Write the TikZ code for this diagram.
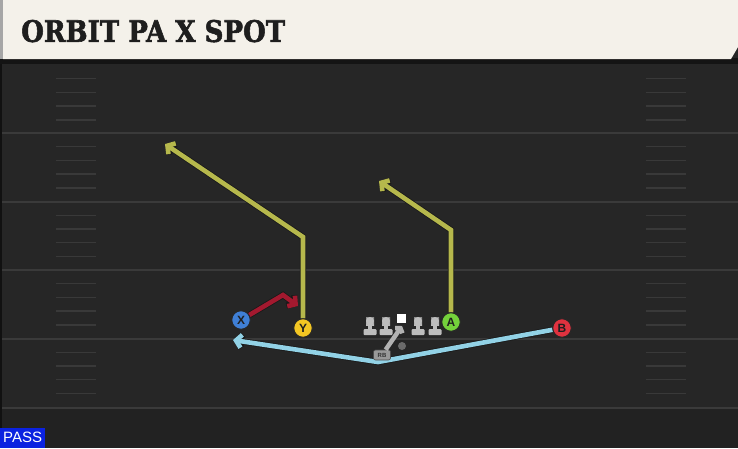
\documentclass[tikz,border=0pt]{standalone}
\usepackage{fontspec}
\setsansfont{Liberation Sans}
\newfontfamily\titlefont{DejaVu Serif}[BoldFeatures={FakeBold=2}]
\usetikzlibrary{arrows.meta}
\definecolor{fieldbg}{HTML}{262626}
\definecolor{fieldlow}{HTML}{222222}
\definecolor{fieldline}{HTML}{3A3A3A}
\definecolor{hashcol}{HTML}{393939}
\definecolor{cream}{HTML}{F4F1EA}
\definecolor{titlecol}{HTML}{1E1E1E}
\definecolor{routeyellow}{HTML}{B6B84C}
\definecolor{routered}{HTML}{A3192F}
\definecolor{routeblue}{HTML}{92D2E6}
\definecolor{pxblue}{HTML}{3F7FD6}
\definecolor{pyellow}{HTML}{F3C623}
\definecolor{pgreen}{HTML}{74D13B}
\definecolor{pred}{HTML}{E0323F}
\definecolor{linegray}{HTML}{BDBDBD}
\definecolor{passblue}{HTML}{0B22E0}
\pgfdeclarelayer{field}
\pgfdeclarelayer{routes}
\pgfsetlayers{field,routes,main}
\tikzset{
  player/.style={circle, minimum size=18.5pt, inner sep=0pt, draw=black!85, line width=0.9pt,
    font=\sffamily\bfseries\fontsize{12}{12}\selectfont, text=black!88},
  route/.style={draw=#1, line width=4.6pt, line join=miter,
    -{Straight Barb[length=5.5pt,width=13pt]},
    preaction={draw=black!90, line width=6.2pt, -{Straight Barb[length=5.5pt,width=13pt]}}},
  yardline/.style={draw=fieldline, line width=2pt},
  hashmark/.style={draw=hashcol, line width=1.4pt},
}
\begin{document}
\begin{tikzpicture}[x=1pt,y=-1pt]
\useasboundingbox (0,0) rectangle (738,448);
\begin{pgfonlayer}{field}
  \fill[fieldbg] (0,0) rectangle (738,448);
  \fill[fieldlow] (0,408) rectangle (738,448);
  \fill[black!55!fieldbg] (0,64) rectangle (2,448);
  \foreach \yy in {133,201.5,270,338.5,408} {
    \draw[yardline] (2,\yy) -- (738,\yy);
  }
  \foreach \base in {65,133,201.5,270,338.5} {
    \foreach \k in {1,2,3,4} {
      \draw[hashmark] (56,\base+13.7*\k) -- (96,\base+13.7*\k);
      \draw[hashmark] (646,\base+13.7*\k) -- (686,\base+13.7*\k);
    }
  }
  % header
  \fill[black!92] (0,58) rectangle (738,64);
  \fill[cream] (3,0) -- (738,0) -- (738,47) -- (731,59) -- (3,59) -- cycle;
  \fill[black!35] (0,0) rectangle (3,59);
\end{pgfonlayer}

\node[anchor=south west, inner sep=0pt, text=titlecol] (title) at (21,42.5)
  {\resizebox{264pt}{22pt}{\titlefont\bfseries ORBIT PA X SPOT}};

% offensive line
\foreach \lx in {370,386,418,435} {
  \fill[top color=black!45, bottom color=linegray] (\lx-4,317) rectangle (\lx+4,325);
  \fill[linegray] (\lx,321) circle (4pt);
  \fill[linegray] (\lx-2,324) rectangle (\lx+2,331);
  \fill[linegray, rounded corners=1pt] (\lx-6.5,329) rectangle (\lx+6.5,335);
}
\node[fill=white, minimum size=9pt, inner sep=0pt] (C) at (401,318) {};
\fill[black!58] (402,346) circle (4pt);

% players
\node[player, fill=pxblue] (X) at (241,320) {X};
\node[player, fill=pyellow] (Y) at (303,328) {Y};
\node[player, fill=pgreen] (A) at (451,322) {A};
\node[player, fill=pred] (B) at (562,328) {B};
\node[fill=black!40, draw=black!70, line width=0.6pt, rounded corners=2pt, minimum width=17pt,
      minimum height=10pt, inner sep=0pt, font=\sffamily\bfseries\fontsize{6}{6}\selectfont,
      text=black!80] (RB) at (382,355) {RB};

% route waypoints
\coordinate (ybreak) at (303,237);
\coordinate (yend) at (165,144);
\coordinate (abreak) at (451,230);
\coordinate (aend) at (379,181);
\coordinate (xbreak) at (283,295);
\coordinate (xend) at (298,306);
\coordinate (bvert) at (378,362);
\coordinate (bend) at (233,340);
\coordinate (handoff) at (402,326);

\begin{pgfonlayer}{routes}
  \draw[route=routeyellow] (Y.north) -- (ybreak) -- (yend);
  \draw[route=routeyellow] (A.north) -- (abreak) -- (aend);
  \draw[route=routered] (X) -- (xbreak) -- (xend);
  \draw[route=routeblue] (B) -- (bvert) -- (bend);
\end{pgfonlayer}
\draw[draw=black!30, line width=4.5pt, -{Straight Barb[length=3pt,width=9pt]}] (RB) -- (handoff);

% play type
\node[fill=passblue, anchor=south west, inner sep=0pt, minimum width=45pt, minimum height=20pt,
      text=white, font=\sffamily\fontsize{15}{15}\selectfont] (pass) at (0,448) {PASS};
\end{tikzpicture}
\end{document}
